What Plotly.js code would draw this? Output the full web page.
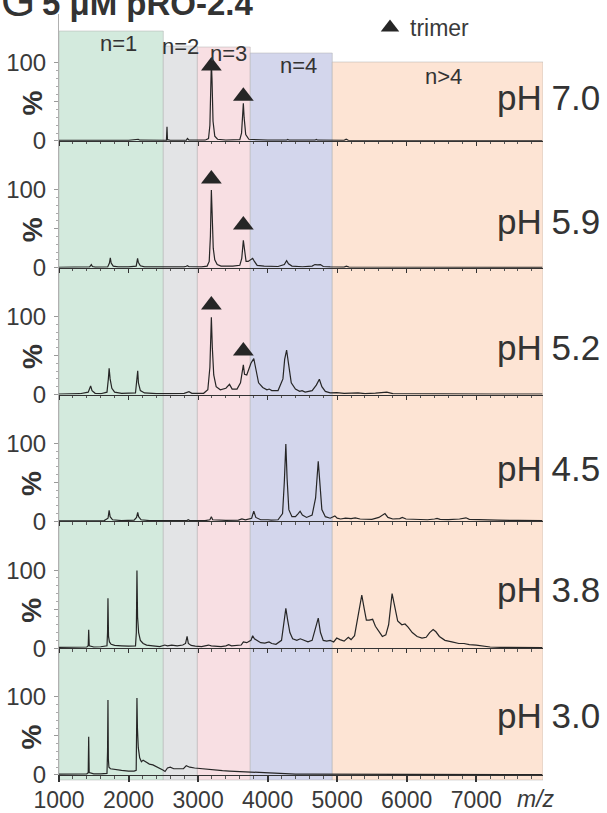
<!DOCTYPE html>
<html><head><meta charset="utf-8">
<script src="https://cdn.plot.ly/plotly-3.0.1.min.js"></script>
<style>html,body{margin:0;padding:0;background:#fff}#chart{width:607px;height:813px}</style>
</head><body><div id="chart"></div>
<script>
// ---------- DATA ----------
const phLabels = ['pH 7.0', 'pH 5.9', 'pH 5.2', 'pH 4.5', 'pH 3.8', 'pH 3.0'];

// [m/z, relative intensity %]
const spec_pH70 = [[1000,0.5],[1200,0.6],[1400,0.5],[1450,0.6],[1470,1.2],[1500,0.5],[1740,0.8],[1760,1.5],[1790,0.6],[2000,0.5],[2130,1.0],[2140,2.0],[2160,0.8],[2400,0.5],[2545,0.6],[2553,18],[2560,1.5],[2600,0.7],[2830,0.7],[2847,3],[2870,0.8],[3100,0.8],[3150,3],[3170,20],[3183,80],[3191,100],[3200,80],[3215,25],[3240,6],[3280,2],[3400,1],[3600,1.5],[3625,10],[3642,45],[3651,48],[3662,30],[3685,8],[3730,2],[3800,1.5],[4000,0.8],[4270,0.8],[4290,1.8],[4310,0.8],[4680,0.8],[4700,1.8],[4720,0.8],[5100,0.6],[5130,2],[5160,0.6],[5500,0.4],[6500,0.4],[7950,0.4]];

const spec_pH59 = [[1000,0.5],[1300,0.7],[1440,1],[1465,4],[1480,1.5],[1520,0.8],[1700,1],[1725,6],[1738,12.7],[1750,6],[1780,2],[1850,1],[2000,1],[2110,2],[2130,12],[2140,7],[2170,2.5],[2230,1],[2500,0.7],[2800,1],[2830,1.8],[2847,2.5],[2870,1.2],[3050,1],[3130,2],[3160,8],[3177,40],[3191,99.5],[3202,70],[3218,25],[3240,10],[3275,4],[3330,2],[3500,2],[3600,3],[3628,12],[3651,35],[3667,20],[3690,8],[3720,8],[3760,10],[3785,12],[3810,8],[3850,3],[3950,2],[4150,1.5],[4240,4],[4273,9],[4300,5],[4350,2],[4500,1.2],[4640,2],[4680,4],[4720,3.5],[4760,4],[4800,1.5],[4900,1],[5100,0.8],[5133,2],[5170,0.8],[5500,0.5],[6500,0.4],[7950,0.4]];

const spec_pH52 = [[1000,0.5],[1300,1],[1420,3],[1455,11],[1475,5],[1520,1.5],[1600,1],[1690,3],[1710,20],[1721,33.5],[1735,20],[1760,8],[1800,3],[1900,1.5],[2100,2],[2120,18],[2132,30.5],[2142,15],[2170,5],[2230,2],[2400,1],[2600,1],[2800,1.5],[2869,3.6],[2910,1.5],[3080,1.5],[3140,6],[3170,35],[3191,99],[3205,60],[3225,25],[3260,10],[3320,6],[3400,8],[3452,13],[3490,7],[3560,7],[3610,15],[3640,33],[3651,38],[3668,26],[3700,25],[3760,40],[3801,46],[3830,33],[3870,15],[3930,9],[3990,6],[4023,7],[4060,5],[4150,5],[4220,20],[4245,45],[4273,57],[4300,40],[4340,15],[4400,7],[4460,4],[4495,5],[4540,3],[4640,5],[4700,12],[4744,19.5],[4780,10],[4830,4],[4900,2],[4994,2.5],[5100,1.5],[5300,2],[5400,1],[5550,1.8],[5715,3],[5800,1.2],[6000,1],[6300,0.8],[6700,0.6],[7200,0.5],[7950,0.4]];

const spec_pH45 = [[1000,0.5],[1300,0.8],[1500,1],[1650,1],[1705,4],[1721,14],[1735,6],[1770,2],[1900,1],[2080,1.5],[2115,5],[2132,11.6],[2145,6],[2180,2],[2300,1],[2600,0.8],[2840,1],[2858,2],[2880,1],[3100,1],[3170,2],[3191,6],[3210,2],[3400,1.2],[3580,1.5],[3630,3],[3680,2],[3770,4],[3801,13],[3830,5],[3900,2],[4006,2],[4050,1.5],[4150,2],[4215,10],[4240,50],[4262,99],[4280,55],[4305,15],[4350,6],[4400,6],[4440,10],[4467,13],[4500,8],[4560,5],[4640,8],[4690,30],[4728,77],[4750,45],[4780,15],[4830,6],[4900,4],[4967,7],[5000,4],[5050,3],[5120,4],[5200,3.5],[5260,4.5],[5330,3],[5400,2.5],[5500,2.5],[5600,5],[5687,10],[5730,5],[5800,3],[5900,3.5],[5937,5],[5990,3],[6100,2.5],[6200,2.5],[6300,2],[6400,3],[6436,3.8],[6480,2.5],[6600,2.2],[6760,3],[6852,4.5],[6900,2.5],[7100,1.8],[7300,1.5],[7600,1.2],[7950,1]];

const spec_pH38 = [[1000,1],[1100,1.2],[1200,1],[1300,1.3],[1400,1.5],[1420,3],[1427,23.5],[1435,3],[1500,1.5],[1600,1.8],[1690,3],[1698,20],[1704,64],[1712,15],[1725,8],[1750,5],[1800,3.5],[1900,3],[2000,2.5],[2100,3],[2112,20],[2121,99.5],[2130,40],[2145,20],[2170,10],[2210,6],[2260,4],[2350,3],[2450,2],[2520,4],[2560,3],[2620,4],[2700,3],[2780,4],[2820,6],[2842,15],[2860,6],[2900,3.5],[2960,2.5],[3050,2],[3100,3],[3150,4],[3190,3],[3280,2.5],[3330,2],[3400,3],[3440,4.5],[3480,3],[3560,3.5],[3620,4],[3651,8],[3700,7],[3760,10],[3785,16],[3810,12],[3860,9],[3900,7],[3960,6.5],[4020,8],[4060,6],[4120,5],[4200,10],[4240,35],[4262,51],[4290,35],[4320,20],[4360,12],[4420,10],[4470,12],[4520,10],[4580,8],[4640,10],[4690,25],[4728,38.5],[4760,20],[4800,10],[4850,9],[4900,10],[4950,8],[4994,13],[5040,11],[5100,9],[5160,14],[5200,11],[5250,16],[5300,40],[5354,68],[5390,50],[5420,36],[5460,36],[5510,37],[5550,28],[5600,22],[5650,15],[5700,17],[5740,30],[5790,70],[5830,50],[5870,35],[5930,30],[5976,31],[6020,27],[6080,20],[6150,15],[6220,13],[6280,14],[6330,20],[6380,24],[6420,21],[6470,15],[6550,10],[6650,8],[6750,6],[6824,6],[6900,4.5],[7000,4],[7100,2.5],[7200,1.5],[7350,1],[7600,0.8],[7950,0.8]];

const spec_pH30 = [[1000,1],[1100,1],[1200,1.3],[1300,1.5],[1400,1.5],[1420,3],[1427,49],[1434,3],[1500,1.5],[1600,1.5],[1690,2],[1698,30],[1704,96],[1710,20],[1718,10],[1740,8],[1800,7],[1900,6],[2000,5],[2080,5],[2110,6],[2116,40],[2121,98.6],[2128,60],[2140,35],[2160,22],[2185,17],[2210,19],[2250,17],[2300,14],[2350,13],[2400,11],[2450,9],[2500,6],[2525,4.5],[2560,9],[2600,10],[2650,8],[2720,8],[2790,8],[2830,12],[2880,10],[2950,9],[3050,8],[3150,7],[3250,6],[3350,5.5],[3450,5],[3550,4.5],[3650,4],[3750,3.5],[3850,3],[3950,2.5],[4050,2],[4200,1.5],[4400,1.2],[4600,1],[4800,1],[5000,0.8],[5500,0.6],[6000,0.5],[7000,0.4],[7950,0.4]];

const spectra = [spec_pH70, spec_pH59, spec_pH52, spec_pH45, spec_pH38, spec_pH30];

// oligomer regions (m/z)
const regionLabels = ['n=1', 'n=2', 'n=3', 'n=4', 'n>4'];
const regionStart = [1000, 2500, 2990, 3750, 4930];
const regionEnd = [2500, 2990, 3750, 4930, 7960];

// trimer markers (m/z, level in % for panels 1..3)
const trimerMz = [3191, 3651];
const trimerLevel = [[95.8, 57], [113.6, 54.6], [114.7, 55.8]];

// ---------- STYLE / LAYOUT ----------
const W = 607, H = 813;
const M = {l: 59, r: 64, t: 14, b: 38, autoexpand: false};
const plotH = H - M.t - M.b, plotW = W - M.l - M.r;
const pyPaper = px => (H - M.b - px) / plotH;   // pixel row -> paper y
const pxPaper = px => (px - M.l) / plotW;       // pixel col -> paper x
const regionColors = ['#d3eadd', '#e3e4e6', '#f8dfe3', '#d3d6ec', '#fde4d4'];
const regionTopPx = [31, 46, 47, 53, 62];
const regionLabelPx = [[118, 44], [180, 47], [228, 53], [298, 65], [443, 76]];
const phLabelLevel = [56, 59, 60, 68, 75, 76];
const FONT = 'Liberation Sans, Arial, sans-serif';
const N = spectra.length;

const traces = [];
const layout = {
  width: W, height: H, margin: M,
  paper_bgcolor: '#fff', plot_bgcolor: 'rgba(0,0,0,0)',
  font: {family: FONT, color: '#3a3a3a', size: 23},
  showlegend: true,
  legend: {x: pxPaper(370), y: pyPaper(6), xanchor: 'left', yanchor: 'top',
           bgcolor: 'rgba(0,0,0,0)', font: {size: 23, color: '#3a3a3a'}},
  shapes: [], annotations: []
};

for (let k = 0; k < N; k++) {
  const sfx = k === 0 ? '' : String(k + 1);
  const bottom = k === N - 1;
  traces.push({
    x: spectra[k].map(p => p[0]), y: spectra[k].map(p => p[1]),
    xaxis: 'x' + sfx, yaxis: 'y' + sfx, mode: 'lines', showlegend: false,
    line: {color: '#262626', width: 1.2}, hoverinfo: 'skip'
  });
  layout['xaxis' + sfx] = {
    anchor: 'y' + sfx, range: [1000, 7960], tick0: 1000, dtick: 1000,
    showgrid: false, zeroline: false, showline: true, linecolor: '#333', linewidth: 1,
    ticks: 'outside', ticklen: bottom ? 6 : 4, tickwidth: bottom ? 2 : 1, tickcolor: '#333',
    minor: {dtick: 200, tick0: 1000, ticks: 'outside', ticklen: bottom ? 3 : 2.5, tickcolor: '#555', tickwidth: 1},
    showticklabels: bottom, tickfont: {size: 23, color: '#3a3a3a'}, ticklabelstandoff: -2, automargin: false
  };
  layout['yaxis' + sfx] = {
    anchor: 'x' + sfx, domain: [(N - 1 - k) / N, (N - k) / N], range: [0, 162.6],
    showgrid: false, zeroline: false, showline: true, linecolor: '#b0b0b0', linewidth: 1,
    tickmode: 'array', tickvals: [0, 50, 100], ticktext: ['0', '', '100'],
    ticks: 'outside', ticklen: 4, tickcolor: '#999', ticklabelstandoff: 3,
    minor: {tickmode: 'array', tickvals: [10, 20, 30, 40, 60, 70, 80, 90], ticks: 'outside', ticklen: 2, tickcolor: '#aaa'},
    tickfont: {size: 24, color: '#3a3a3a'}, automargin: false
  };
  layout.annotations.push({
    text: phLabels[k], xref: 'paper', yref: 'y' + sfx, x: pxPaper(602), y: phLabelLevel[k],
    xanchor: 'right', yanchor: 'middle', showarrow: false,
    font: {size: 35, color: '#333', family: FONT}
  });
  layout.annotations.push({
    text: '%', xref: 'paper', yref: 'y' + sfx, x: pxPaper(32), y: 48,
    xanchor: 'center', yanchor: 'middle', textangle: -90, showarrow: false,
    font: {size: 28, color: '#333', family: FONT, weight: 'bold'}
  });
}

// trimer markers
trimerLevel.forEach((lv, k) => {
  const sfx = k === 0 ? '' : String(k + 1);
  traces.push({
    x: trimerMz, y: lv, xaxis: 'x' + sfx, yaxis: 'y' + sfx, mode: 'markers',
    name: 'trimer', showlegend: k === 0, cliponaxis: false, hoverinfo: 'skip',
    marker: {symbol: 'triangle-up', size: 18, color: '#262626'}
  });
});

// region backgrounds and labels
regionLabels.forEach((lab, i) => {
  layout.shapes.push({
    type: 'rect', layer: 'below', xref: 'x', yref: 'paper',
    x0: regionStart[i], x1: regionEnd[i], y0: pyPaper(780), y1: pyPaper(regionTopPx[i]),
    fillcolor: regionColors[i], line: {color: 'rgba(170,170,170,0.45)', width: 1}
  });
  layout.annotations.push({
    text: lab, xref: 'x', yref: 'paper', x: regionStart[0] + (regionLabelPx[i][0] - M.l) / plotW * (7960 - 1000),
    y: pyPaper(regionLabelPx[i][1]), xanchor: 'center', yanchor: 'middle', showarrow: false,
    font: {size: 22, color: '#333', family: FONT}
  });
});

// m/z axis label
layout.annotations.push({
  text: '<i>m/z</i>', xref: 'paper', yref: 'paper', x: pxPaper(515), y: pyPaper(799),
  xanchor: 'left', yanchor: 'middle', showarrow: false, font: {size: 23, color: '#3a3a3a', family: FONT}
});
// panel title (cut at the top as in the figure)
layout.annotations.push({
  text: 'G', xref: 'paper', yref: 'paper', x: pxPaper(-1), y: pyPaper(27),
  xanchor: 'left', yanchor: 'bottom', showarrow: false, font: {size: 44, color: '#333', family: FONT}
});
layout.annotations.push({
  text: '<b>5 μM pRO-2.4</b>', xref: 'paper', yref: 'paper', x: pxPaper(40), y: pyPaper(24),
  xanchor: 'left', yanchor: 'bottom', showarrow: false, font: {size: 33, color: '#333', family: FONT}
});

Plotly.newPlot('chart', traces, layout, {displayModeBar: false, staticPlot: true});
</script>
</body></html>
